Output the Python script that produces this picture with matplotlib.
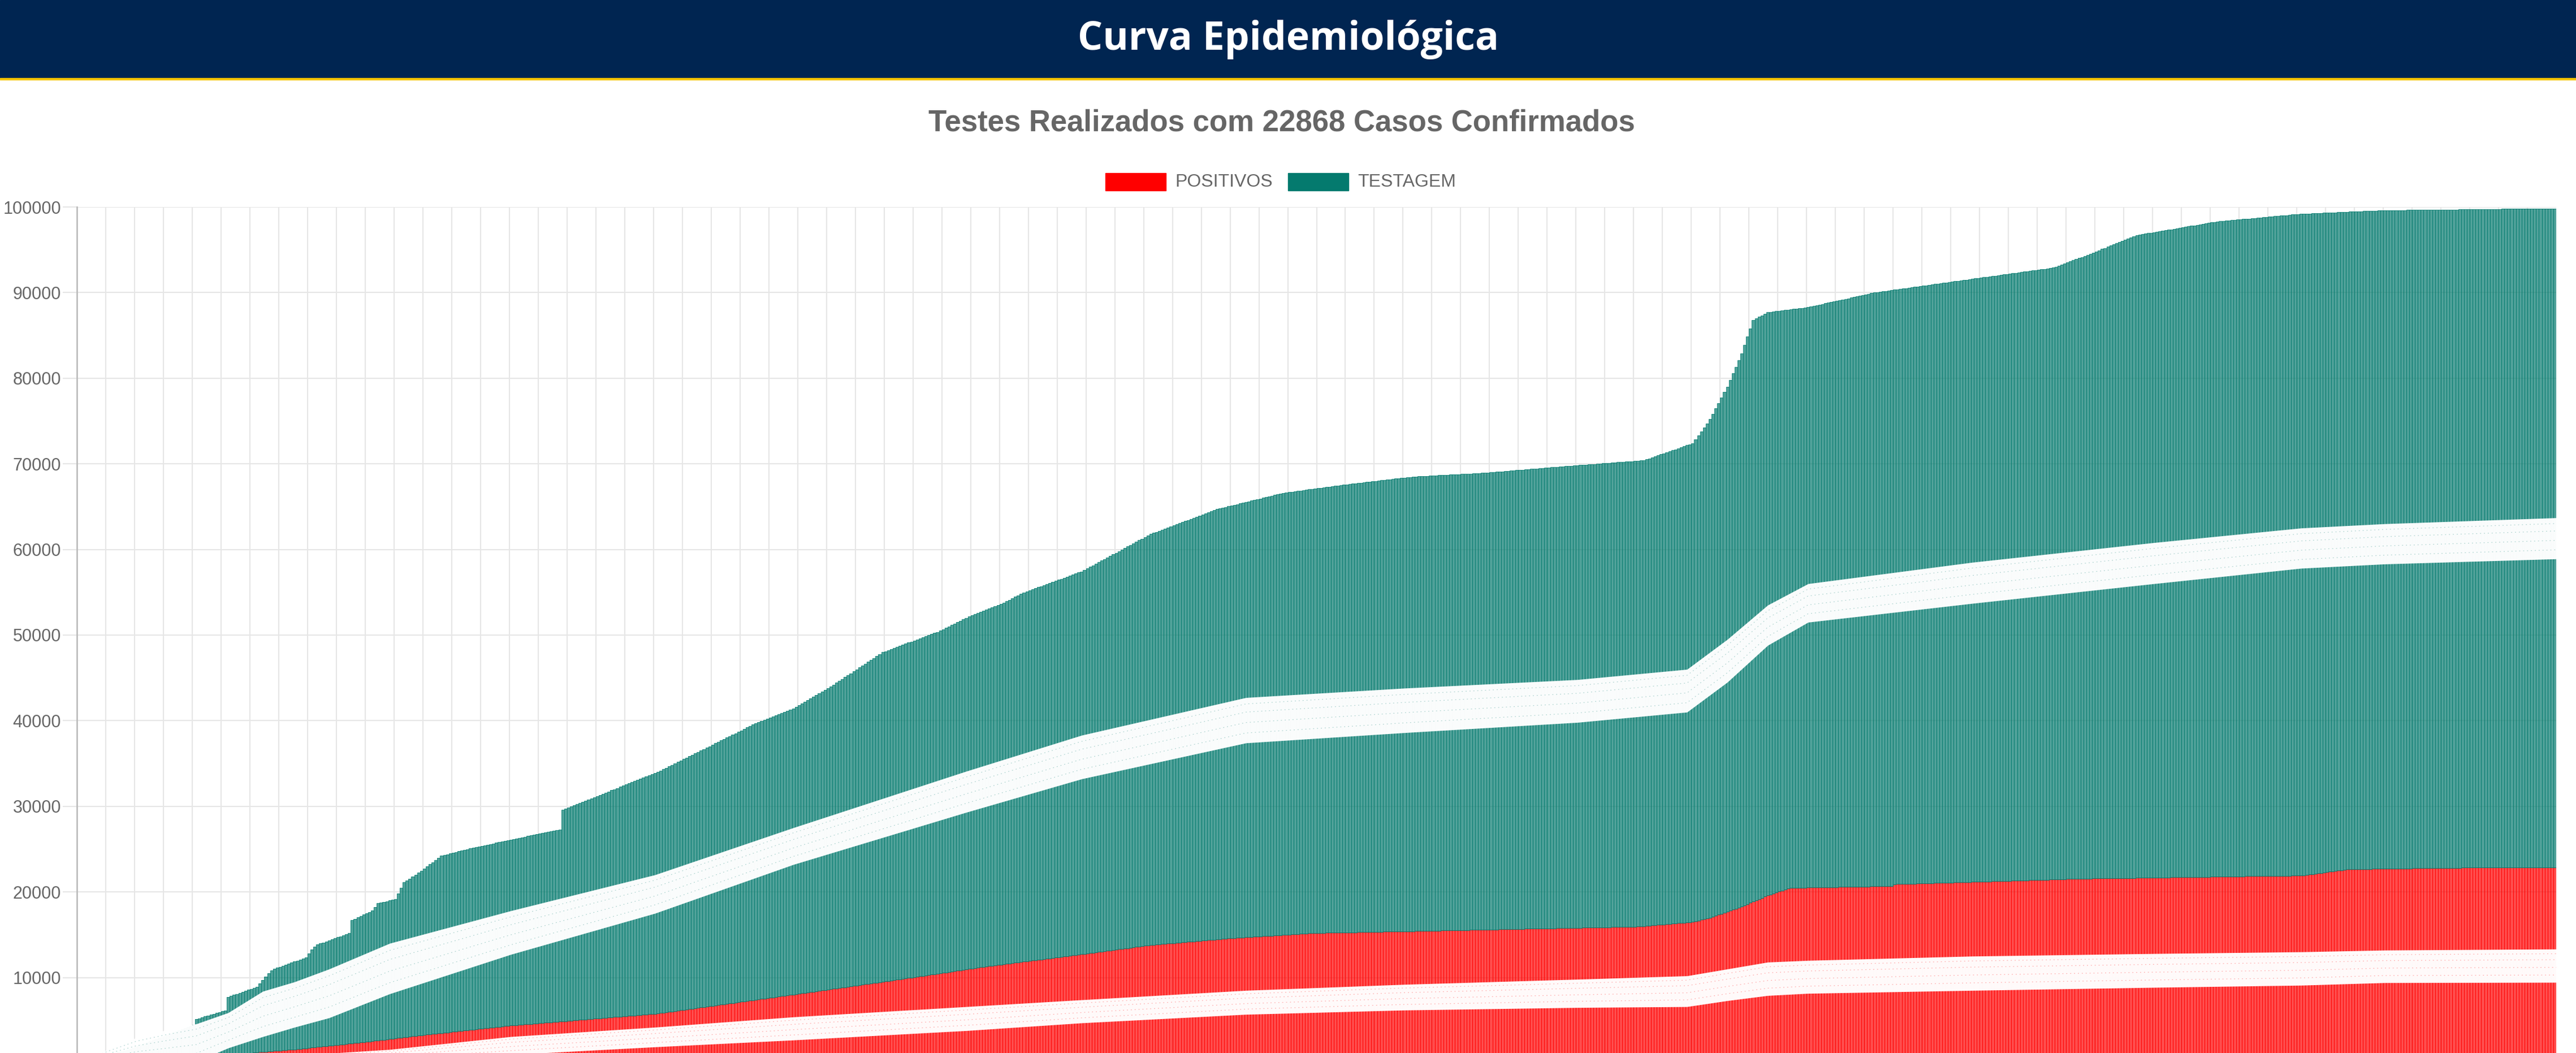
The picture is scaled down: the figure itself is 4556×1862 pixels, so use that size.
import numpy as np
import matplotlib
matplotlib.use("Agg")
import matplotlib.pyplot as plt
from matplotlib.patches import Rectangle

# cumulative tests (top of the teal bars), one value per day
testagem = [
    60, 150, 240, 330, 410, 500, 590, 680, 760, 850, 940, 1030, 1120, 1200, 1290, 1380, 1470, 1560, 1650, 1780,
    1910, 2040, 2170, 2300, 2420, 2550, 2680, 2810, 2940, 3070, 3200, 3330, 3460, 3590, 3720, 3850, 3980, 4110, 4240, 4370,
    4500, 5150, 5250, 5350, 5450, 5550, 5650, 5750, 5850, 5950, 6050, 6140, 7720, 7840, 7960, 8080, 8200, 8320, 8440, 8560,
    8680, 8800, 8910, 9300, 9700, 10100, 10500, 10800, 11020, 11140, 11260, 11380, 11500, 11620, 11740, 11860, 11980, 12100, 12220, 12340,
    12800, 13300, 13600, 13860, 13980, 14100, 14220, 14340, 14460, 14580, 14700, 14820, 14940, 15060, 15180, 16700, 16860, 17020, 17180, 17340,
    17500, 17660, 17820, 18250, 18680, 18760, 18830, 18910, 18990, 19070, 19140, 19800, 20500, 21120, 21340, 21560, 21780, 21980, 22230, 22480,
    22730, 22980, 23230, 23480, 23730, 23980, 24220, 24310, 24400, 24480, 24570, 24650, 24740, 24820, 24910, 25000, 25080, 25150, 25220, 25300,
    25370, 25440, 25510, 25580, 25660, 25730, 25800, 25870, 25940, 26020, 26090, 26160, 26230, 26300, 26380, 26450, 26520, 26590, 26660, 26740,
    26810, 26880, 26950, 27020, 27100, 27170, 27240, 27300, 29600, 29730, 29870, 30000, 30130, 30270, 30400, 30530, 30670, 30800, 30930, 31070,
    31200, 31330, 31470, 31600, 31730, 31870, 32000, 32130, 32270, 32400, 32530, 32670, 32800, 32930, 33070, 33200, 33330, 33470, 33600, 33730,
    33870, 34000, 34170, 34340, 34500, 34670, 34840, 35010, 35180, 35340, 35510, 35680, 35850, 36020, 36180, 36350, 36520, 36690, 36860, 37020,
    37190, 37360, 37530, 37700, 37860, 38030, 38200, 38370, 38540, 38700, 38870, 39040, 39210, 39380, 39540, 39700, 39830, 39960, 40090, 40220,
    40350, 40480, 40610, 40740, 40870, 41000, 41130, 41260, 41390, 41590, 41790, 41990, 42200, 42400, 42600, 42800, 43000, 43210, 43410, 43610,
    43810, 44010, 44220, 44420, 44640, 44870, 45090, 45310, 45540, 45760, 45980, 46210, 46430, 46650, 46870, 47100, 47320, 47540, 47770, 47990,
    48110, 48240, 48360, 48490, 48610, 48740, 48860, 48990, 49110, 49240, 49360, 49490, 49610, 49740, 49860, 49990, 50110, 50240, 50360, 50530,
    50690, 50860, 51020, 51190, 51350, 51520, 51680, 51850, 52010, 52180, 52340, 52470, 52590, 52720, 52850, 52970, 53100, 53220, 53350, 53470,
    53600, 53770, 53950, 54120, 54290, 54460, 54640, 54810, 54980, 55100, 55220, 55350, 55470, 55590, 55710, 55830, 55960, 56080, 56200, 56320,
    56440, 56570, 56690, 56810, 56930, 57050, 57180, 57300, 57420, 57600, 57790, 57970, 58150, 58330, 58520, 58700, 58880, 59060, 59250, 59430,
    59610, 59790, 59970, 60160, 60340, 60520, 60700, 60890, 61070, 61250, 61430, 61620, 61800, 61930, 62050, 62180, 62300, 62430, 62560, 62680,
    62810, 62930, 63060, 63190, 63310, 63440, 63560, 63690, 63820, 63940, 64070, 64190, 64320, 64450, 64570, 64700, 64780, 64870, 64950, 65030,
    65110, 65200, 65280, 65360, 65440, 65530, 65610, 65690, 65770, 65860, 65940, 66020, 66100, 66190, 66270, 66350, 66430, 66520, 66600, 66650,
    66690, 66740, 66780, 66830, 66870, 66920, 66960, 67010, 67050, 67100, 67150, 67190, 67240, 67280, 67330, 67370, 67420, 67460, 67510, 67550,
    67600, 67640, 67680, 67720, 67760, 67800, 67840, 67870, 67910, 67950, 67990, 68030, 68070, 68110, 68150, 68190, 68230, 68270, 68300, 68340,
    68380, 68420, 68460, 68500, 68520, 68530, 68550, 68570, 68590, 68600, 68620, 68640, 68660, 68670, 68690, 68710, 68730, 68740, 68760, 68780,
    68800, 68810, 68830, 68850, 68870, 68880, 68900, 68930, 68960, 68980, 69010, 69040, 69070, 69090, 69120, 69150, 69180, 69200, 69230, 69260,
    69290, 69310, 69340, 69370, 69400, 69420, 69450, 69480, 69510, 69530, 69560, 69590, 69620, 69640, 69670, 69700, 69730, 69750, 69780, 69800,
    69830, 69850, 69880, 69900, 69930, 69950, 69980, 70000, 70030, 70050, 70080, 70100, 70130, 70150, 70180, 70200, 70230, 70250, 70280, 70300,
    70330, 70350, 70380, 70400, 70520, 70640, 70750, 70870, 70990, 71110, 71220, 71340, 71460, 71580, 71690, 71810, 71930, 72050, 72160, 72280,
    72400, 72870, 73330, 73800, 74270, 74730, 75200, 75830, 76470, 77100, 77730, 78370, 79000, 79780, 80560, 81340, 82120, 82900, 83880, 84850,
    85830, 86800, 86980, 87160, 87340, 87520, 87700, 87740, 87790, 87830, 87870, 87910, 87960, 88000, 88040, 88090, 88130, 88170, 88210, 88260,
    88300, 88370, 88450, 88520, 88600, 88670, 88740, 88820, 88890, 88970, 89040, 89110, 89190, 89260, 89330, 89410, 89480, 89560, 89630, 89700,
    89780, 89850, 89930, 90000, 90050, 90090, 90140, 90190, 90240, 90280, 90330, 90380, 90420, 90470, 90520, 90570, 90610, 90660, 90710, 90750,
    90800, 90850, 90890, 90940, 90990, 91040, 91080, 91130, 91180, 91220, 91270, 91320, 91360, 91410, 91460, 91510, 91550, 91600, 91650, 91690,
    91740, 91790, 91830, 91880, 91930, 91970, 92020, 92070, 92110, 92160, 92200, 92250, 92300, 92340, 92390, 92440, 92480, 92530, 92570, 92620,
    92670, 92710, 92760, 92810, 92850, 92900, 93030, 93150, 93280, 93400, 93530, 93650, 93780, 93900, 94030, 94150, 94280, 94400, 94540, 94670,
    94810, 94940, 95080, 95210, 95350, 95480, 95620, 95750, 95890, 96020, 96160, 96290, 96430, 96560, 96700, 96760, 96810, 96870, 96930, 96990,
    97040, 97100, 97160, 97210, 97270, 97330, 97390, 97440, 97500, 97560, 97610, 97670, 97730, 97790, 97840, 97900, 97960, 98010, 98070, 98130,
    98190, 98240, 98300, 98330, 98360, 98390, 98420, 98460, 98490, 98520, 98550, 98580, 98610, 98640, 98670, 98700, 98730, 98770, 98800, 98830,
    98860, 98890, 98920, 98950, 98980, 99010, 99040, 99080, 99110, 99140, 99170, 99200, 99210, 99230, 99240, 99260, 99270, 99290, 99300, 99310,
    99330, 99340, 99360, 99370, 99390, 99400, 99410, 99430, 99440, 99460, 99470, 99490, 99500, 99510, 99530, 99540, 99560, 99570, 99590, 99600,
    99600, 99610, 99610, 99620, 99620, 99620, 99630, 99630, 99640, 99640, 99640, 99650, 99650, 99660, 99660, 99660, 99670, 99670, 99680, 99680,
    99680, 99690, 99690, 99700, 99700, 99700, 99710, 99710, 99720, 99720, 99720, 99730, 99730, 99740, 99740, 99740, 99750, 99750, 99760, 99760,
    99760, 99770, 99770, 99770, 99780, 99780, 99780, 99790, 99790, 99790, 99790, 99790, 99800, 99800, 99800, 99800, 99800, 99800, 99800, 99800,
]

# cumulative confirmed cases (red bars)
positivos = [
    5, 20, 40, 55, 70, 90, 105, 125, 140, 160, 175, 195, 210, 230, 245, 265, 280, 300, 315, 330,
    350, 365, 385, 400, 420, 435, 455, 470, 490, 505, 525, 540, 560, 575, 595, 610, 630, 645, 665, 680,
    700,
    730, 750, 780, 800, 830, 860, 880, 910, 930, 960, 990, 1010, 1040, 1060, 1090, 1120, 1140, 1170, 1190, 1220,
    1250, 1270, 1300, 1320, 1350, 1380, 1400, 1430, 1450, 1480, 1510, 1530, 1560, 1580, 1600,
    1640, 1670, 1710, 1740, 1780, 1820, 1850, 1890, 1920, 1960, 2000, 2030, 2070, 2100, 2140, 2180, 2210, 2250, 2280, 2320,
    2360, 2390, 2430, 2460, 2500,
    2540, 2580, 2620, 2660, 2700, 2740, 2780, 2820, 2860, 2900, 2940, 2980, 3020, 3060, 3100, 3140, 3180, 3220, 3260, 3300,
    3340, 3370, 3410, 3450, 3480, 3520, 3560, 3590, 3630, 3670, 3700, 3740, 3780, 3810, 3850, 3890, 3920, 3960, 4000, 4030,
    4070, 4110, 4140, 4180, 4220, 4250, 4290, 4330, 4360, 4400,
    4430, 4450, 4480, 4510, 4540, 4560, 4590, 4620, 4650, 4670, 4700, 4730, 4760, 4780, 4810, 4840, 4870, 4890, 4920, 4950,
    4980, 5000, 5030, 5060, 5090, 5110, 5140, 5170, 5200, 5220, 5250, 5280, 5310, 5330, 5360, 5390, 5420, 5440, 5470, 5500,
    5530, 5550, 5580, 5610, 5640, 5660, 5690, 5720, 5750, 5770, 5800,
    5850, 5900, 5940, 5990, 6040, 6080, 6130, 6180, 6230, 6270, 6320, 6370, 6410, 6460, 6510, 6560, 6600, 6650, 6700, 6740,
    6790, 6840, 6890, 6930, 6980, 7030, 7070, 7120, 7170, 7220, 7260, 7310, 7360, 7400, 7450, 7500, 7550, 7590, 7640, 7690,
    7730, 7780, 7830, 7880, 7920, 7970, 8020, 8060, 8110, 8160, 8210, 8250, 8300, 8350, 8390, 8440, 8500,
    8550, 8600, 8640, 8690, 8740, 8790, 8840, 8880, 8930, 8980, 9030, 9080, 9120, 9170, 9220, 9270, 9310, 9360, 9410, 9460,
    9510, 9550, 9600,
    9650, 9700, 9750, 9800, 9850, 9900, 9950, 10000, 10050, 10100, 10150, 10200, 10250, 10300, 10350, 10400, 10450, 10500, 10550, 10600,
    10650, 10700, 10750, 10800, 10850, 10900, 10950, 11000, 11050, 11100, 11150, 11200, 11250, 11300,
    11340, 11390, 11430, 11470, 11510, 11560, 11600, 11640, 11690, 11730, 11770, 11810, 11860, 11900, 11940, 11990, 12030, 12070, 12110, 12160,
    12200, 12240, 12290, 12330, 12370, 12410, 12460, 12500,
    12540, 12590, 12630, 12680, 12720, 12770, 12810, 12860, 12900, 12950, 12990, 13040, 13080, 13130, 13170, 13220, 13260, 13310, 13350, 13400,
    13440, 13490, 13530, 13580, 13620, 13670, 13710, 13760, 13800,
    13830, 13860, 13890, 13910, 13940, 13970, 14000, 14030, 14060, 14090, 14110, 14140, 14170, 14200, 14230, 14260, 14290, 14310, 14340, 14370,
    14400, 14430, 14460, 14490, 14510, 14540, 14570, 14600,
    14620, 14640, 14660, 14680, 14700, 14720, 14740, 14770, 14790, 14810, 14830, 14850, 14870, 14890, 14910, 14930, 14950, 14970, 14990, 15010,
    15040, 15060, 15080, 15100, 15120, 15140, 15160, 15180, 15200,
    15210, 15210, 15220, 15230, 15230, 15240, 15250, 15250, 15260, 15270, 15270, 15280, 15280, 15290, 15300, 15300, 15310, 15320, 15320, 15330,
    15340, 15340, 15350, 15360, 15360, 15370, 15380, 15380, 15390, 15400, 15400, 15410, 15420, 15420, 15430, 15440, 15440, 15450, 15460, 15460,
    15470, 15480, 15480, 15490, 15500, 15500, 15510, 15520, 15520, 15530, 15540, 15540, 15550, 15560, 15560, 15570, 15580,
    15590, 15590, 15600, 15610, 15610, 15620, 15630, 15630, 15640, 15650, 15650, 15660, 15670, 15670, 15680, 15690, 15690, 15700, 15710, 15710,
    15720, 15730, 15730, 15740, 15750, 15750, 15760, 15770, 15770, 15780, 15790, 15790, 15800, 15810, 15810, 15820, 15830, 15830, 15840, 15850,
    15850, 15860, 15870, 15870, 15880, 15890, 15890, 15900, 15910, 15910, 15920, 15930, 15940, 15950, 15970, 15980, 16000,
    16030, 16060, 16090, 16120, 16150, 16180, 16210, 16240, 16260, 16290, 16320, 16350, 16380, 16410, 16440, 16470, 16500,
    16580, 16670, 16750, 16830, 16920, 17000,
    17120, 17240, 17350, 17470, 17590, 17710, 17830, 17950, 18060, 18180, 18300,
    18440, 18590, 18730, 18880, 19020, 19170, 19310, 19460, 19600,
    19710, 19830, 19940, 20060, 20170, 20290, 20400,
    20470, 20480, 20480, 20490, 20500, 20500, 20510, 20520, 20520, 20530, 20540, 20540, 20550, 20550, 20560, 20570, 20570, 20580, 20590, 20590,
    20600, 20610, 20610, 20620, 20620, 20630, 20640, 20640, 20650, 20650, 20650, 20660, 20660, 20660, 20660, 20660,
    20900,
    20910, 20920, 20930, 20940, 20950, 20960, 20970, 20980, 20990, 21000, 21010, 21020, 21030, 21040, 21050, 21060, 21070, 21080, 21090, 21100,
    21110, 21120, 21130, 21140, 21150, 21160, 21170, 21180, 21190, 21200, 21210, 21220, 21230, 21240, 21250, 21260, 21270, 21280, 21290, 21300,
    21310, 21320, 21330, 21340, 21350, 21360, 21370, 21380, 21390, 21400, 21410, 21420, 21430, 21440, 21450, 21460, 21470, 21480, 21490, 21500,
    21510, 21520, 21530, 21540, 21550, 21550, 21560, 21560, 21570, 21570, 21580, 21580, 21580,
    21590, 21590, 21600, 21600, 21610, 21610, 21620, 21620, 21630, 21630, 21640, 21640, 21650, 21650, 21660, 21660, 21670, 21670, 21680, 21680,
    21690, 21690, 21700, 21700, 21710, 21710, 21720, 21720, 21730, 21730, 21740, 21740, 21750, 21750, 21760, 21760, 21770, 21770, 21780, 21780,
    21790, 21790, 21800, 21800, 21810, 21810, 21820, 21820, 21830, 21830, 21840, 21840, 21850, 21850, 21860, 21860, 21870, 21870, 21880, 21880,
    21880, 21890, 21890, 21890, 21900, 21900, 21900, 21900,
    21950, 22000, 22040, 22090, 22130, 22180, 22220, 22270, 22320, 22360, 22410, 22460, 22500, 22550, 22600, 22640,
    22650, 22650, 22660, 22660, 22670, 22670, 22680, 22680, 22690, 22690, 22700, 22700, 22710, 22710, 22720, 22720, 22730, 22730, 22740, 22740,
    22750, 22750, 22760, 22760, 22770, 22770, 22780, 22780, 22790, 22790, 22800, 22800, 22800, 22810, 22810, 22810, 22820, 22820, 22820, 22830,
    22830, 22830, 22840, 22840, 22840, 22840, 22850, 22850, 22850, 22850, 22850, 22860, 22860, 22860, 22860, 22860, 22860, 22860, 22860, 22860,
    22860, 22860, 22860, 22860, 22860, 22860, 22860, 22860, 22868, 22868, 22868, 22868,
]

# the white streaks that run through both series in the screenshot
band_x = [0, 10, 20, 30, 41, 52, 64, 75, 87, 108, 150, 200, 248, 308, 348, 405, 460, 520, 558, 572, 586, 600, 657, 720, 771, 800, 859]
teal_band_hi = [0, 1580, 2970, 3830, 4600, 5900, 8400, 9500, 11000, 14000, 17800, 22000, 27500, 34100, 38300, 42700, 43800,
                44800, 46000, 49500, 53500, 56000, 58500, 60800, 62500, 63000, 63700]
teal_band_lo = [0, 0, 0, 0, 200, 1780, 3100, 4200, 5300, 8100, 12700, 17500, 23200, 29300, 33200, 37400, 38600,
                39800, 41000, 44500, 48800, 51500, 53700, 56000, 57800, 58300, 58900]
red_band_hi = [0, 0, 0, 0, 300, 500, 700, 900, 1150, 1600, 3100, 4200, 5400, 6600, 7400, 8500, 9200,
               9800, 10200, 11000, 11800, 12000, 12500, 12800, 13000, 13200, 13330]
red_band_lo = [0, 0, 0, 0, 0, 0, 0, 0, 100, 300, 1000, 1900, 2700, 3800, 4700, 5700, 6200,
               6500, 6600, 7300, 7900, 8150, 8500, 8850, 9100, 9400, 9440]

assert len(testagem) == len(positivos), (len(testagem), len(positivos))

plt.rcParams["font.family"] = ["Liberation Sans", "DejaVu Sans"]

W, H = 4556, 1862
fig = plt.figure(figsize=(W / 100, H / 100), dpi=100)


def fx(px):
    return px / W


def fy(py):
    return 1 - py / H


# page header
fig.patches.append(Rectangle((0, fy(138)), 1, 138 / H, transform=fig.transFigure, color="#002551", zorder=0))
fig.patches.append(Rectangle((0, fy(141)), 1, 3 / H, transform=fig.transFigure, color="#f5c400", zorder=0))
fig.text(0.5, fy(70), "Curva Epidemiológica", color="white", fontsize=50, fontweight="bold",
         family="Open Sans", ha="center", va="center")

fig.text(fx(2267), fy(218), "Testes Realizados com 22868 Casos Confirmados", color="#666666",
         fontsize=38, fontweight="bold", ha="center", va="center")

# legend
for x0, col, lab in [(1955, "#ff0000", "POSITIVOS"), (2278, "#047a6e", "TESTAGEM")]:
    fig.patches.append(Rectangle((fx(x0), fy(337)), 107 / W, 31 / H, transform=fig.transFigure, color=col))
    fig.text(fx(x0 + 123), fy(322), lab, color="#666666", fontsize=23, ha="left", va="center")

ax = fig.add_axes([fx(136), fy(1880), (4521 - 136) / W, (1880 - 366) / H])

n = len(testagem)
x = np.arange(n)
pos = np.array(positivos)
tst = np.array(testagem)

ax.bar(x, pos, width=1.0, color=(1, 0, 0, 0.7), edgecolor="#ff0000", linewidth=0.6, zorder=2)
ax.bar(x, tst - pos, bottom=pos, width=1.0, color=(4 / 255, 122 / 255, 110 / 255, 0.7),
       edgecolor="#047a6e", linewidth=0.6, zorder=2)

# white streaks, with faint dotted remnants of the bars inside them
bx = np.array(band_x, dtype=float)
bx[0] -= 0.5
bx[-1] += 0.5
for lo, hi, col in [(teal_band_lo, teal_band_hi, "#047a6e"), (red_band_lo, red_band_hi, "#ff0000")]:
    lo = np.array(lo, dtype=float)
    hi = np.array(hi, dtype=float)
    ax.fill_between(bx, lo, hi, color="white", alpha=0.98, lw=0, zorder=3)
    for f in (0.22, 0.45, 0.68, 0.86):
        ax.plot(bx, lo + f * (hi - lo), color=col, alpha=0.3, lw=0.9,
                linestyle=(0, (1.5, 4)), zorder=4)

ax.set_xlim(-0.5, n - 0.5)
ax.set_ylim(0, 100000)
yt = np.arange(0, 100001, 10000)
ax.set_yticks(yt)
ax.set_yticklabels(["" if v == 0 else str(v) for v in yt])
ax.set_xticks(np.arange(9.5, n - 1, 10))
ax.tick_params(axis="x", length=0, labelbottom=False)
ax.tick_params(axis="y", length=18, width=1.5, color="#e6e6e6", labelcolor="#666666", labelsize=22, pad=2)
ax.grid(True, color="#e6e6e6", linewidth=1.5)
ax.set_axisbelow(True)
for s in ["top", "right", "bottom"]:
    ax.spines[s].set_visible(False)
ax.spines["left"].set_color("#bdbdbd")
ax.spines["left"].set_linewidth(2)

fig.savefig("out.png", dpi=100)
